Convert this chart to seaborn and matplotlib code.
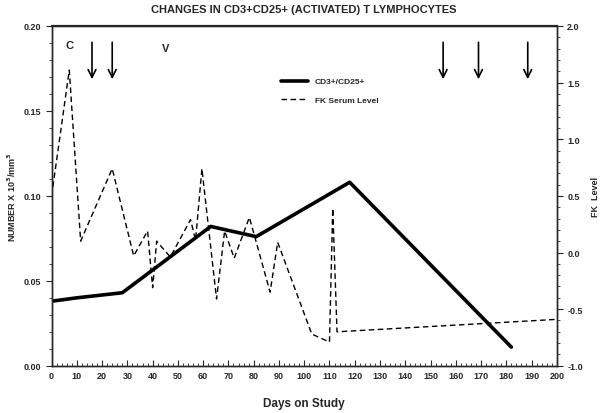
import matplotlib
matplotlib.use("Agg")
import matplotlib.pyplot as plt
from matplotlib.ticker import MultipleLocator
import pandas as pd
import seaborn as sns

# CD3+/CD25+ counts (x10^3/mm^3) by study day
cd_days = [0, 10, 28, 63, 81, 118, 182]
cd_counts = [0.038, 0.040, 0.043, 0.082, 0.076, 0.108, 0.011]

# FK serum level by study day
fk_days = [0, 7, 11.5, 24, 32.5, 38, 40, 41.6, 47, 55, 57, 59.5, 65.3, 68.5,
           72.3, 78.3, 86.5, 89.5, 103, 110, 111.3, 113, 200]
fk_levels = [0.50, 1.61, 0.10, 0.74, -0.03, 0.19, -0.31, 0.10, -0.04, 0.29, 0.11,
             0.74, -0.41, 0.19, -0.05, 0.31, -0.35, 0.09, -0.72, -0.79, 0.39,
             -0.70, -0.59]

arrow_days = [16, 24, 155, 169, 188.5]
markers = [("C", 7.2, 0.189), ("V", 45, 0.187)]

sns.set_style("ticks")
plt.rcParams["font.family"] = ["Liberation Sans", "DejaVu Sans"]
plt.rcParams["font.weight"] = "bold"

cd = pd.DataFrame({"day": cd_days, "count": cd_counts})
fk = pd.DataFrame({"day": fk_days, "level": fk_levels})

fig = plt.figure(figsize=(6, 4.14), dpi=100)
ax = fig.add_axes([0.086, 0.114, 0.842, 0.821])
ax2 = ax.twinx()

sns.lineplot(data=cd, x="day", y="count", ax=ax, color="black", lw=2.6,
             label="CD3+/CD25+", legend=False)
sns.lineplot(data=fk, x="day", y="level", ax=ax2, color="black", lw=1.0,
             linestyle=(0, (4, 2.5)), label="FK Serum Level", legend=False)

ax.set_xlim(0, 200)
ax.set_ylim(0, 0.20)
ax2.set_ylim(-1.0, 2.0)

ax.xaxis.set_major_locator(MultipleLocator(10))
ax.xaxis.set_minor_locator(MultipleLocator(2))
ax.yaxis.set_major_locator(MultipleLocator(0.05))
ax.yaxis.set_minor_locator(MultipleLocator(0.01))
ax2.yaxis.set_major_locator(MultipleLocator(0.5))
ax2.yaxis.set_minor_locator(MultipleLocator(0.1))
ax.yaxis.set_major_formatter(plt.FuncFormatter(lambda v, p: f"{v:.2f}"))
ax2.yaxis.set_major_formatter(plt.FuncFormatter(lambda v, p: f"{v:.1f}"))

ax.tick_params(axis="x", which="major", direction="in", length=4, labelsize=6.5, pad=4)
ax.tick_params(axis="x", which="minor", direction="in", length=2.5)
ax.tick_params(axis="y", which="major", direction="out", length=4, labelsize=6.5)
ax.tick_params(axis="y", which="minor", direction="out", length=2)
ax2.tick_params(axis="y", which="major", direction="out", length=4, labelsize=6.5)
ax2.tick_params(axis="y", which="minor", direction="out", length=2)

for a in (ax, ax2):
    for s in a.spines.values():
        s.set_linewidth(1.0)
        s.set_visible(True)
ax.spines["top"].set_linewidth(1.6)

ax.set_xlabel("Days on Study", fontsize=8.5, fontweight="bold", labelpad=12)
ax.set_ylabel("NUMBER X 10$^{\\mathbf{3}}$/mm$^{\\mathbf{3}}$", fontsize=6.5,
              fontweight="bold", labelpad=4)
ax2.set_ylabel("FK  Level", fontsize=6.5, fontweight="bold", rotation=90, labelpad=6)
ax.set_title("CHANGES IN CD3+CD25+ (ACTIVATED) T LYMPHOCYTES", fontsize=8,
             fontweight="bold", pad=10)

for d in arrow_days:
    ax.annotate("", xy=(d, 0.167), xytext=(d, 0.192),
                arrowprops=dict(arrowstyle="->", color="black", lw=1.2,
                                mutation_scale=14))
for txt, d, v in markers:
    ax.text(d, v, txt, fontsize=8, fontweight="bold", ha="center", va="center")

h1, l1 = ax.get_legend_handles_labels()
h2, l2 = ax2.get_legend_handles_labels()
ax2.legend(h1 + h2, l1 + l2, loc="upper left", bbox_to_anchor=(0.44, 0.87),
           frameon=False, fontsize=6, handlelength=3.2, labelspacing=1.3)

fig.savefig("out.png", dpi=100)
